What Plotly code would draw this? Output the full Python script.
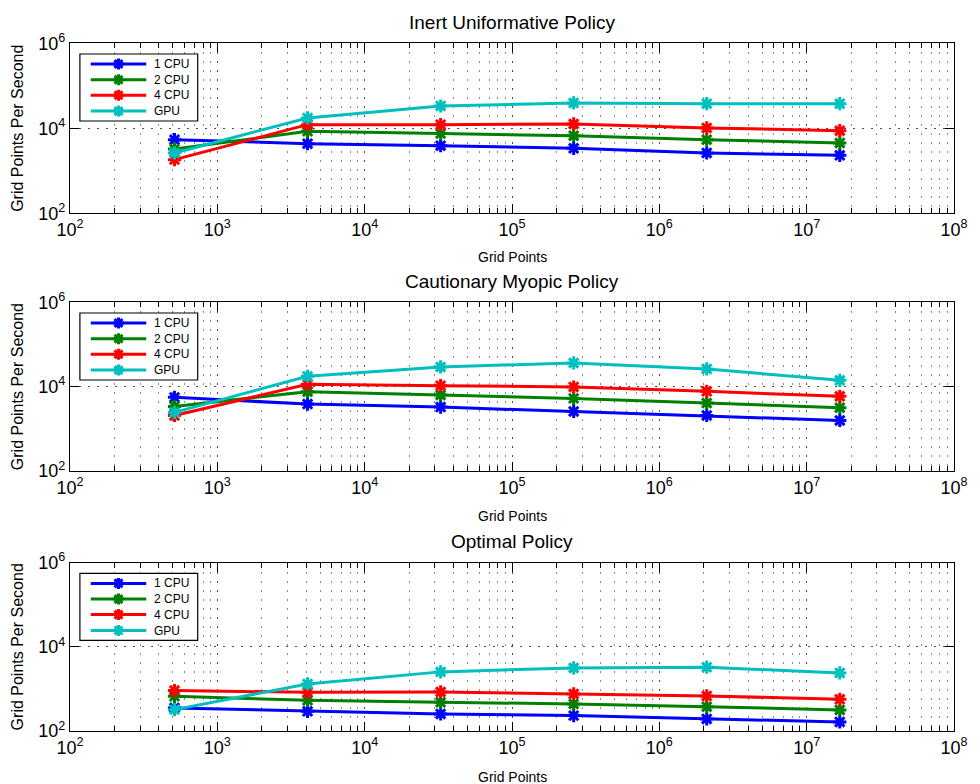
import plotly.graph_objects as go

grid_points = [512, 4096, 32768, 262144, 2097152, 16777216]
series_names = ["1 CPU", "2 CPU", "4 CPU", "GPU"]
series_colors = ["#0000ff", "#008000", "#ff0000", "#00bfbf"]
panel_titles = ["Inert Uniformative Policy", "Cautionary Myopic Policy", "Optimal Policy"]

inert_1cpu = [5410, 4355, 3908, 3381, 2630, 2317]
inert_2cpu = [3266, 8492, 7499, 6714, 5408, 4519]
inert_4cpu = [1832, 12190, 12190, 12650, 10190, 8810]
inert_gpu = [2630, 17500, 33500, 39450, 38020, 38020]

myopic_1cpu = [5570, 3864, 3281, 2588, 2075, 1578]
myopic_2cpu = [3404, 7603, 6339, 5272, 4083, 3162]
myopic_4cpu = [2075, 11380, 10570, 9817, 7745, 5888]
myopic_gpu = [2449, 17620, 29380, 36560, 26300, 14130]

optimal_1cpu = [353, 294, 254, 232, 193, 164]
optimal_2cpu = [668, 537, 482, 440, 379, 316]
optimal_4cpu = [912, 832, 849, 760, 681, 568]
optimal_gpu = [322, 1315, 2541, 3162, 3281, 2404]

x_tickvals = [1e2, 1e3, 1e4, 1e5, 1e6, 1e7, 1e8]
x_ticktext = ["10<sup>%d</sup>" % e for e in range(2, 9)]
y_tickvals = [1e2, 1e4, 1e6]
y_ticktext = ["10<sup>2</sup>", "10<sup>4</sup>", "10<sup>6</sup>"]

panels = [
    [inert_1cpu, inert_2cpu, inert_4cpu, inert_gpu],
    [myopic_1cpu, myopic_2cpu, myopic_4cpu, myopic_gpu],
    [optimal_1cpu, optimal_2cpu, optimal_4cpu, optimal_gpu],
]

W, H = 980, 784
ML, MR, MT, MB = 70, 17, 43, 53
PH = H - MT - MB
PW = W - ML - MR


def py(pix):
    return 1 - (pix - MT) / PH


def px(pix):
    return (pix - ML) / PW


panel_pix = [(43.3, 213.3), (302.3, 471.0), (562.7, 731.0)]
title_pix = [22.5, 281, 541]
xtitle_pix = [257, 516, 777]

fig = go.Figure()
layout = {}
annotations = []
shapes = []
FONT = "Liberation Sans, Arial, Helvetica, sans-serif"

x_minor = [m * 10 ** e for e in range(2, 8) for m in range(2, 10)]
DOT = "2px,7px"

for i, series in enumerate(panels):
    sfx = "" if i == 0 else str(i + 1)
    for name, col, vals in zip(series_names, series_colors, series):
        fig.add_trace(go.Scatter(
            x=grid_points, y=vals, name=name, mode="lines+markers",
            line=dict(color=col, width=3),
            marker=dict(symbol="asterisk-open", size=11, color=col,
                        line=dict(color=col, width=3)),
            xaxis="x" + sfx, yaxis="y" + sfx, showlegend=False,
        ))
    top, bot = panel_pix[i]
    common = dict(
        showline=True, linecolor="black", linewidth=1.3, mirror="ticks",
        ticks="inside", tickwidth=1, tickcolor="black",
        showgrid=True, gridwidth=1, griddash=DOT,
        zeroline=False,
        tickfont=dict(family=FONT, size=18, color="black"),
    )
    layout["xaxis" + sfx] = dict(
        type="log", range=[2, 8], domain=[0, 1], anchor="y" + sfx,
        tickmode="array", tickvals=x_tickvals, ticktext=x_ticktext,
        ticklen=9, gridcolor="rgba(0,0,0,0.7)",
        minor=dict(tickmode="array", tickvals=x_minor, ticks="inside", ticklen=5,
                   tickcolor="black", showgrid=True, gridcolor="rgba(0,0,0,0.45)",
                   gridwidth=1, griddash=DOT),
        **common,
    )
    layout["yaxis" + sfx] = dict(
        type="log", range=[2, 6], domain=[py(bot), py(top)], anchor="x" + sfx,
        tickmode="array", tickvals=y_tickvals, ticktext=y_ticktext,
        ticklen=9, gridcolor="rgba(0,0,0,0.7)",
        **common,
    )
    # legend box (drawn as layout decoration)
    bx0, bx1 = 80, 199
    by0, by1 = top + 10.7, top + 77.7
    shapes.append(dict(type="rect", xref="paper", yref="paper",
                       x0=px(bx0), x1=px(bx1), y0=py(by1), y1=py(by0),
                       line=dict(color="black", width=1.2), fillcolor="white",
                       layer="above"))
    entry_offsets = [20.7, 36.4, 51.9, 67.8]
    for name, col, off in zip(series_names, series_colors, entry_offsets):
        ey = top + off
        shapes.append(dict(type="line", xref="paper", yref="paper",
                           x0=px(91), x1=px(147), y0=py(ey), y1=py(ey),
                           line=dict(color=col, width=3), layer="above"))
        cx = 119
        arms = [(0, 5.5), (5.5, 0), (4, 4), (4, -4)]
        path = ""
        for ax, ay in arms:
            path += "M%.6f,%.6f L%.6f,%.6f " % (px(cx - ax), py(ey - ay), px(cx + ax), py(ey + ay))
        shapes.append(dict(type="path", xref="paper", yref="paper", path=path.strip(),
                           line=dict(color=col, width=3), layer="above"))
        annotations.append(dict(
            text=name, x=px(153), y=py(ey), xref="paper", yref="paper",
            showarrow=False, xanchor="left", yanchor="middle",
            font=dict(family=FONT, size=12, color="black"),
        ))
    annotations.append(dict(
        text=panel_titles[i], x=px(516.5), y=py(title_pix[i]), xref="paper", yref="paper",
        showarrow=False, xanchor="center", yanchor="middle",
        font=dict(family=FONT, size=19, color="black"),
    ))
    annotations.append(dict(
        text="Grid Points", x=px(516.5), y=py(xtitle_pix[i]), xref="paper", yref="paper",
        showarrow=False, xanchor="center", yanchor="middle",
        font=dict(family=FONT, size=14, color="black"),
    ))
    annotations.append(dict(
        text="Grid Points Per Second", x=px(17), y=py((top + bot) / 2),
        xref="paper", yref="paper", showarrow=False, textangle=-90,
        xanchor="center", yanchor="middle",
        font=dict(family=FONT, size=16, color="black"),
    ))

fig.update_layout(
    width=W, height=H,
    margin=dict(l=ML, r=MR, t=MT, b=MB),
    paper_bgcolor="white", plot_bgcolor="white",
    showlegend=False,
    annotations=annotations,
    shapes=shapes,
    **layout,
)

fig.write_html(
    "out.html",
    config={"displayModeBar": False},
    post_script="document.body.style.margin='0';document.body.style.padding='0';",
)
